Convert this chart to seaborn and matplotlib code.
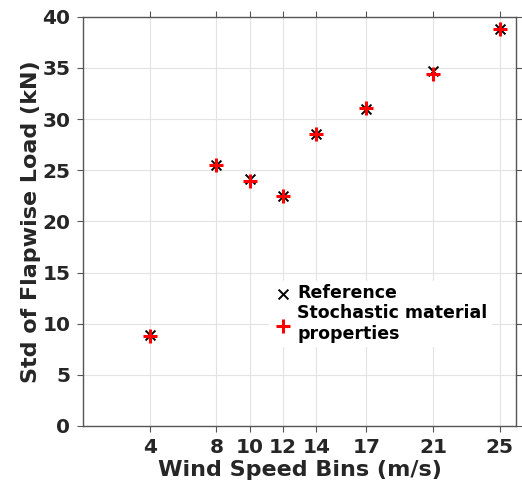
import matplotlib
matplotlib.use("Agg")
import matplotlib.pyplot as plt
import seaborn as sns
import pandas as pd

wind_bins = [4, 8, 10, 12, 14, 17, 21, 25]
reference = [8.9, 25.5, 24.1, 22.5, 28.5, 31.0, 34.7, 38.8]
stochastic = [8.8, 25.5, 23.9, 22.5, 28.5, 31.1, 34.4, 38.8]
y_ticks = [0, 5, 10, 15, 20, 25, 30, 35, 40]

sns.set_theme(style="whitegrid")
plt.rcParams['font.family'] = ['DejaVu Sans']

fig = plt.figure(figsize=(5.22, 4.93), dpi=100)
ax = fig.add_axes([0.159, 0.136, 0.830, 0.830])

df_ref = pd.DataFrame({"x": wind_bins, "y": reference})
df_sto = pd.DataFrame({"x": wind_bins, "y": stochastic})

sns.scatterplot(data=df_ref, x="x", y="y", ax=ax, marker="x", color="black",
                s=50, linewidth=1.4, label="Reference", zorder=3)
sns.scatterplot(data=df_sto, x="x", y="y", ax=ax, marker="+", color="red",
                s=110, linewidth=2.2, label="Stochastic material\nproperties", zorder=4)

ax.set_xlim(0, 26)
ax.set_ylim(0, 40)
ax.set_xticks(wind_bins)
ax.set_yticks(y_ticks)
ax.grid(True, color="#e3e3e3", linewidth=0.8)
for sp in ax.spines.values():
    sp.set_color("#555555")
    sp.set_linewidth(1.0)
ax.tick_params(axis="both", which="both", direction="out", length=4, width=0.8,
               color="#555555", labelsize=14.5, labelcolor="#262626",
               bottom=True, left=True, top=True, right=True, pad=5)
for lab in ax.get_xticklabels() + ax.get_yticklabels():
    lab.set_fontweight("bold")

ax.set_xlabel("Wind Speed Bins (m/s)", fontsize=16, fontweight="bold", color="#262626", labelpad=2)
ax.set_ylabel("Std of Flapwise Load (kN)", fontsize=16, fontweight="bold", color="#262626", labelpad=1)

leg = ax.legend(loc="upper left", bbox_to_anchor=(0.41, 0.376), frameon=True,
                fancybox=False, edgecolor="white", framealpha=1,
                prop={"weight": "bold", "size": 12.5}, handletextpad=0.2,
                handlelength=1.2, borderpad=0.2, labelspacing=0.1)
for t in leg.get_texts():
    t.set_color("black")

fig.savefig("out.png", dpi=100)
